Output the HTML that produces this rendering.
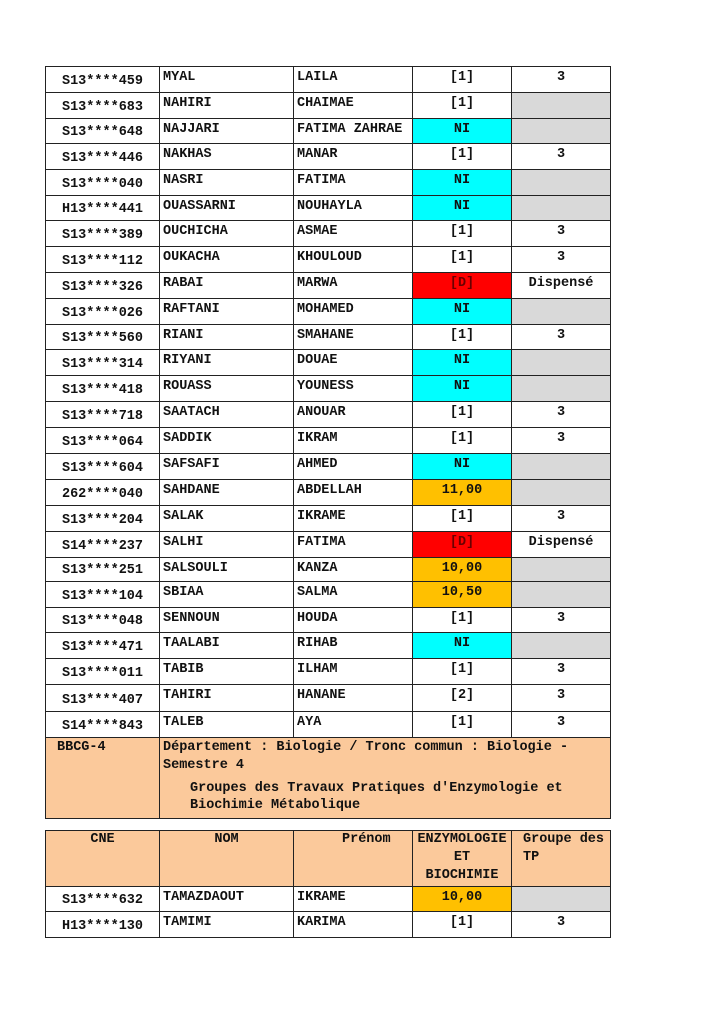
<!DOCTYPE html>
<html><head><meta charset="utf-8">
<style>
html,body{margin:0;padding:0;background:#fff;}
body{width:724px;height:1024px;position:relative;overflow:hidden;font-family:"Liberation Mono","DejaVu Sans Mono",monospace;font-weight:bold;font-size:13.5px;color:#111;}
.r{position:absolute;left:45px;width:566px;}
.c{position:absolute;top:0;bottom:0;box-sizing:border-box;border:1px solid #222;background:#fff;}
.c1{left:0;width:115px;}
.c2{left:114px;width:135px;}
.c3{left:248px;width:120px;}
.c4{left:367px;width:100px;}
.c5{left:466px;width:100px;}
.c1 span{position:absolute;left:0;right:0;bottom:3px;text-align:center;line-height:15px;}
.c2 span,.c3 span{position:absolute;left:3px;top:3px;line-height:15px;white-space:nowrap;}
.c4 span,.c5 span{position:absolute;left:0;right:0;top:3px;text-align:center;line-height:15px;}
.g{background:#d9d9d9;}
.ni{background:#00ffff;}
.y{background:#ffc000;}
.rd{background:#ff0000;}
.rd span{color:#6b0000;}
.pe{background:#fbc99b;}
.t{position:absolute;line-height:15px;white-space:nowrap;}
</style></head><body>

<div class="r" style="top:66px;height:27px"><div class="c c1"><span>S13****459</span></div><div class="c c2"><span>MYAL</span></div><div class="c c3"><span>LAILA</span></div><div class="c c4"><span>[1]</span></div><div class="c c5"><span>3</span></div></div>
<div class="r" style="top:92px;height:27px"><div class="c c1"><span>S13****683</span></div><div class="c c2"><span>NAHIRI</span></div><div class="c c3"><span>CHAIMAE</span></div><div class="c c4"><span>[1]</span></div><div class="c c5 g"></div></div>
<div class="r" style="top:118px;height:26px"><div class="c c1"><span>S13****648</span></div><div class="c c2"><span>NAJJARI</span></div><div class="c c3"><span>FATIMA ZAHRAE</span></div><div class="c c4 ni"><span>NI</span></div><div class="c c5 g"></div></div>
<div class="r" style="top:143px;height:27px"><div class="c c1"><span>S13****446</span></div><div class="c c2"><span>NAKHAS</span></div><div class="c c3"><span>MANAR</span></div><div class="c c4"><span>[1]</span></div><div class="c c5"><span>3</span></div></div>
<div class="r" style="top:169px;height:27px"><div class="c c1"><span>S13****040</span></div><div class="c c2"><span>NASRI</span></div><div class="c c3"><span>FATIMA</span></div><div class="c c4 ni"><span>NI</span></div><div class="c c5 g"></div></div>
<div class="r" style="top:195px;height:26px"><div class="c c1"><span>H13****441</span></div><div class="c c2"><span>OUASSARNI</span></div><div class="c c3"><span>NOUHAYLA</span></div><div class="c c4 ni"><span>NI</span></div><div class="c c5 g"></div></div>
<div class="r" style="top:220px;height:27px"><div class="c c1"><span>S13****389</span></div><div class="c c2"><span>OUCHICHA</span></div><div class="c c3"><span>ASMAE</span></div><div class="c c4"><span>[1]</span></div><div class="c c5"><span>3</span></div></div>
<div class="r" style="top:246px;height:27px"><div class="c c1"><span>S13****112</span></div><div class="c c2"><span>OUKACHA</span></div><div class="c c3"><span>KHOULOUD</span></div><div class="c c4"><span>[1]</span></div><div class="c c5"><span>3</span></div></div>
<div class="r" style="top:272px;height:27px"><div class="c c1"><span>S13****326</span></div><div class="c c2"><span>RABAI</span></div><div class="c c3"><span>MARWA</span></div><div class="c c4 rd"><span>[D]</span></div><div class="c c5"><span>Dispensé</span></div></div>
<div class="r" style="top:298px;height:27px"><div class="c c1"><span>S13****026</span></div><div class="c c2"><span>RAFTANI</span></div><div class="c c3"><span>MOHAMED</span></div><div class="c c4 ni"><span>NI</span></div><div class="c c5 g"></div></div>
<div class="r" style="top:324px;height:26px"><div class="c c1"><span>S13****560</span></div><div class="c c2"><span>RIANI</span></div><div class="c c3"><span>SMAHANE</span></div><div class="c c4"><span>[1]</span></div><div class="c c5"><span>3</span></div></div>
<div class="r" style="top:349px;height:27px"><div class="c c1"><span>S13****314</span></div><div class="c c2"><span>RIYANI</span></div><div class="c c3"><span>DOUAE</span></div><div class="c c4 ni"><span>NI</span></div><div class="c c5 g"></div></div>
<div class="r" style="top:375px;height:27px"><div class="c c1"><span>S13****418</span></div><div class="c c2"><span>ROUASS</span></div><div class="c c3"><span>YOUNESS</span></div><div class="c c4 ni"><span>NI</span></div><div class="c c5 g"></div></div>
<div class="r" style="top:401px;height:27px"><div class="c c1"><span>S13****718</span></div><div class="c c2"><span>SAATACH</span></div><div class="c c3"><span>ANOUAR</span></div><div class="c c4"><span>[1]</span></div><div class="c c5"><span>3</span></div></div>
<div class="r" style="top:427px;height:27px"><div class="c c1"><span>S13****064</span></div><div class="c c2"><span>SADDIK</span></div><div class="c c3"><span>IKRAM</span></div><div class="c c4"><span>[1]</span></div><div class="c c5"><span>3</span></div></div>
<div class="r" style="top:453px;height:27px"><div class="c c1"><span>S13****604</span></div><div class="c c2"><span>SAFSAFI</span></div><div class="c c3"><span>AHMED</span></div><div class="c c4 ni"><span>NI</span></div><div class="c c5 g"></div></div>
<div class="r" style="top:479px;height:27px"><div class="c c1"><span>262****040</span></div><div class="c c2"><span>SAHDANE</span></div><div class="c c3"><span>ABDELLAH</span></div><div class="c c4 y"><span>11,00</span></div><div class="c c5 g"></div></div>
<div class="r" style="top:505px;height:27px"><div class="c c1"><span>S13****204</span></div><div class="c c2"><span>SALAK</span></div><div class="c c3"><span>IKRAME</span></div><div class="c c4"><span>[1]</span></div><div class="c c5"><span>3</span></div></div>
<div class="r" style="top:531px;height:27px"><div class="c c1"><span>S14****237</span></div><div class="c c2"><span>SALHI</span></div><div class="c c3"><span>FATIMA</span></div><div class="c c4 rd"><span>[D]</span></div><div class="c c5"><span>Dispensé</span></div></div>
<div class="r" style="top:557px;height:25px"><div class="c c1"><span>S13****251</span></div><div class="c c2"><span>SALSOULI</span></div><div class="c c3"><span>KANZA</span></div><div class="c c4 y"><span>10,00</span></div><div class="c c5 g"></div></div>
<div class="r" style="top:581px;height:27px"><div class="c c1"><span>S13****104</span></div><div class="c c2"><span>SBIAA</span></div><div class="c c3"><span>SALMA</span></div><div class="c c4 y"><span>10,50</span></div><div class="c c5 g"></div></div>
<div class="r" style="top:607px;height:26px"><div class="c c1"><span>S13****048</span></div><div class="c c2"><span>SENNOUN</span></div><div class="c c3"><span>HOUDA</span></div><div class="c c4"><span>[1]</span></div><div class="c c5"><span>3</span></div></div>
<div class="r" style="top:632px;height:27px"><div class="c c1"><span>S13****471</span></div><div class="c c2"><span>TAALABI</span></div><div class="c c3"><span>RIHAB</span></div><div class="c c4 ni"><span>NI</span></div><div class="c c5 g"></div></div>
<div class="r" style="top:658px;height:27px"><div class="c c1"><span>S13****011</span></div><div class="c c2"><span>TABIB</span></div><div class="c c3"><span>ILHAM</span></div><div class="c c4"><span>[1]</span></div><div class="c c5"><span>3</span></div></div>
<div class="r" style="top:684px;height:28px"><div class="c c1"><span>S13****407</span></div><div class="c c2"><span>TAHIRI</span></div><div class="c c3"><span>HANANE</span></div><div class="c c4"><span>[2]</span></div><div class="c c5"><span>3</span></div></div>
<div class="r" style="top:711px;height:27px"><div class="c c1"><span>S14****843</span></div><div class="c c2"><span>TALEB</span></div><div class="c c3"><span>AYA</span></div><div class="c c4"><span>[1]</span></div><div class="c c5"><span>3</span></div></div>

<!-- BBCG section -->
<div class="r" style="top:737px;height:82px">
  <div class="c pe" style="left:0;width:115px"></div>
  <div class="c pe" style="left:114px;width:452px"></div>
</div>
<div class="t" style="left:57px;top:740px">BBCG-4</div>
<div class="t" style="left:163px;top:740px">Département : Biologie / Tronc commun : Biologie -</div>
<div class="t" style="left:163px;top:758px">Semestre 4</div>
<div class="t" style="left:190px;top:781px">Groupes des Travaux Pratiques d'Enzymologie et</div>
<div class="t" style="left:190px;top:798px">Biochimie Métabolique</div>

<!-- Header second table -->
<div class="r" style="top:830px;height:57px">
  <div class="c c1 pe"></div><div class="c c2 pe"></div><div class="c c3 pe"></div><div class="c c4 pe"></div><div class="c c5 pe"></div>
</div>
<div class="t" style="left:45px;width:115px;text-align:center;top:832px">CNE</div>
<div class="t" style="left:159px;width:135px;text-align:center;top:832px">NOM</div>
<div class="t" style="left:342px;top:832px">Prénom</div>
<div class="t" style="left:412px;width:100px;text-align:center;top:832px">ENZYMOLOGIE</div>
<div class="t" style="left:412px;width:100px;text-align:center;top:850px">ET</div>
<div class="t" style="left:412px;width:100px;text-align:center;top:868px">BIOCHIMIE</div>
<div class="t" style="left:523px;top:832px">Groupe des</div>
<div class="t" style="left:523px;top:850px">TP</div>

<div class="r" style="top:886px;height:26px"><div class="c c1"><span>S13****632</span></div><div class="c c2"><span>TAMAZDAOUT</span></div><div class="c c3"><span>IKRAME</span></div><div class="c c4 y"><span>10,00</span></div><div class="c c5 g"></div></div>
<div class="r" style="top:911px;height:27px"><div class="c c1"><span>H13****130</span></div><div class="c c2"><span>TAMIMI</span></div><div class="c c3"><span>KARIMA</span></div><div class="c c4"><span>[1]</span></div><div class="c c5"><span>3</span></div></div>

</body></html>
